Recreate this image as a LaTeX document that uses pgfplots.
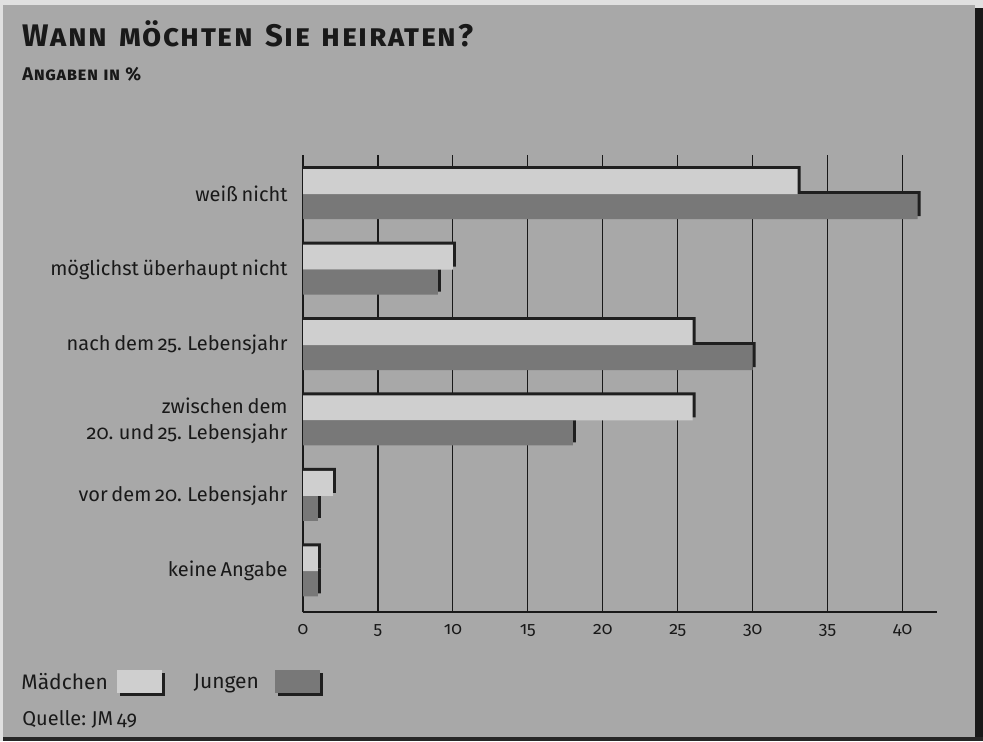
\documentclass[border=0pt]{standalone}
\usepackage{fontspec}
\setmainfont{Fira Sans}[Numbers=OldStyle, WordSpace=0.7]
\usepackage{pgfplots}
\usepackage{pgfplotstable}
\pgfplotsset{compat=1.18}

\definecolor{bg}{gray}{0.66}
\definecolor{rand}{gray}{0.88}
\definecolor{hell}{gray}{0.81}
\definecolor{dunkel}{gray}{0.47}
\definecolor{schatten}{gray}{0.12}
\definecolor{ink}{gray}{0.1}

% y = Position (0 = unten), m = Mädchen, j = Jungen
\pgfplotstableread{
y m j
0 1 1
1 2 1
2 26 18
3 26 30
4 10 9
5 33 41
}\daten

\begin{document}
\begin{tikzpicture}
  \path[use as bounding box] (0,0) rectangle (491.5pt,370.5pt);
  \fill[rand] (0,0) rectangle (491.5pt,370.5pt);
  \fill[bg] (1.5pt,2pt) rectangle (487.5pt,368pt);
  \fill[black!90] (487.5pt,0) rectangle (491.5pt,366.5pt);
  \fill[black!85] (1.5pt,0) rectangle (491.5pt,2pt);

  \begin{axis}[
      at={(151.5pt,64.5pt)}, anchor=south west,
      scale only axis, width=317pt, height=228.5pt,
      xmin=0, xmax=42.3, ymin=-0.54, ymax=5.52,
      axis lines=left,
      axis line style={-, draw=ink, line width=0.7pt},
      major tick length=0pt,
      xtick={0,5,...,40}, ytick={0,...,5},
      yticklabels={keine Angabe, vor dem 20. Lebensjahr,
        {zwischen dem\\20. und 25. Lebensjahr}, nach dem 25. Lebensjahr,
        möglichst überhaupt nicht, weiß nicht},
      xmajorgrids, grid style={ink, line width=0.6pt},
      /pgf/number format/assume math mode=true,
      xticklabel style={font=\fontsize{8.8}{10}\selectfont, text=ink,
        anchor=base, yshift=-11pt},
      yticklabel style={font=\fontsize{10}{13}\selectfont, text=ink,
        align=right, inner sep=0pt, anchor=east, xshift=-7.5pt},
      legend plot pos=right,
      legend columns=2,
      legend style={at={(-0.451,-0.1556)}, anchor=west, draw=none, fill=none,
        inner sep=0pt, font=\fontsize{10.5}{12}\selectfont, text=ink,
        /tikz/column 1/.style={column sep=2.5pt},
        /tikz/column 2/.style={column sep=12.5pt},
        /tikz/column 3/.style={column sep=6pt}},
    ]
    % Jungen: Schatten, dann Balken
    \addplot[xbar, bar width=12.5pt, bar shift=-4.75pt, fill=schatten,
      draw=none, forget plot] table[x expr=\thisrow{j}+0.2, y=y] {\daten};
    \addplot[xbar, bar width=12.5pt, bar shift=-6.25pt, fill=dunkel,
      draw=none, forget plot] table[x=j, y=y] {\daten};
    % Mädchen: Schatten, dann Balken
    \addplot[xbar, bar width=12.5pt, bar shift=7.75pt, fill=schatten,
      draw=none, forget plot] table[x expr=\thisrow{m}+0.2, y=y] {\daten};
    \addplot[xbar, bar width=12.5pt, bar shift=6.25pt, fill=hell,
      draw=none, forget plot] table[x=m, y=y] {\daten};

    \addlegendimage{legend image code/.code={
        \fill[schatten] (1.5pt,-6pt) rectangle (23.5pt,5pt);
        \fill[hell] (0pt,-4.5pt) rectangle (22pt,6.5pt);}}
    \addlegendentry{Mädchen}
    \addlegendimage{legend image code/.code={
        \fill[schatten] (1.5pt,-6pt) rectangle (23.5pt,5pt);
        \fill[dunkel] (0pt,-4.5pt) rectangle (22pt,6.5pt);}}
    \addlegendentry{Jungen}
  \end{axis}

  \node[anchor=base west, inner sep=0pt, text=ink,
    font=\fontsize{15.6}{18}\selectfont\bfseries\addfontfeatures{LetterSpace=5}]
    at (11pt,347.5pt) {\spaceskip=6pt\relax\textsc{Wann möchten Sie heiraten?}};
  \node[anchor=base west, inner sep=0pt, text=ink,
    font=\fontsize{9.2}{10}\selectfont\bfseries\addfontfeatures{LetterSpace=3}]
    at (11pt,330.5pt) {\spaceskip=2.6pt\relax\textsc{Angaben in \%}};
  \node[anchor=base west, inner sep=0pt, text=ink,
    font=\fontsize{10}{11}\selectfont]
    at (11pt,8pt) {Quelle: JM 49};
\end{tikzpicture}
\end{document}
